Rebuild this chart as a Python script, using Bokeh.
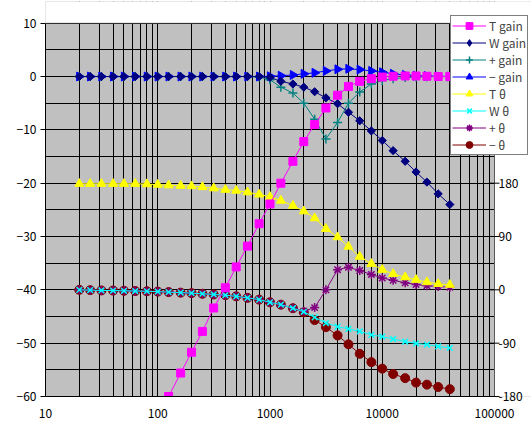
import numpy as np
from bokeh.plotting import figure
from bokeh.models import (Range1d, FixedTicker, Legend, LegendItem,
                          BoxAnnotation)
from bokeh.core.properties import value
from bokeh.embed import file_html
from bokeh.resources import INLINE

# ---------------- data ----------------
freqs = [20, 25, 31.5, 40, 50, 63, 80, 100, 125, 160, 200, 250, 315, 400, 500,
         630, 800, 1000, 1250, 1600, 2000, 2500, 3150, 4000, 5000, 6300, 8000,
         10000, 12500, 16000, 20000, 25000, 31500, 40000]

# gains (dB, left axis)
t_gain = [-60, -55.6, -51.7, -47.8, -43.4, -39.6, -35.7, -31.8, -27.6, -23.9,
          -20.0, -15.9, -12.2, -9.0, -5.9, -3.5, -1.85, -0.9, -0.4, -0.1,
          0.05, 0.1, 0.1, 0.05, 0.0, 0.0]          # from 125 Hz on
w_gain = [0, 0, 0, 0, 0, 0, 0, 0, 0, 0, 0, 0, 0, 0, 0, 0, 0, -0.15, -0.9, -1.4,
          -2.0, -2.85, -4.0, -5.1, -6.7, -8.3, -10.2, -12.0, -13.9, -15.9,
          -17.9, -19.8, -22.0, -24.0]
p_gain = [0, 0, 0, 0, 0, 0, 0, 0, 0, 0, 0, 0, 0, 0, 0, 0, -0.1, -0.6, -2.0, -3.1,
          -5.0, -8.0, -11.7, -8.6, -5.0, -2.9, -1.4, -0.75, -0.4, -0.2,
          -0.1, -0.05, 0, 0]
m_gain = [0, 0, 0, 0, 0, 0, 0, 0, 0, 0, 0, 0, 0, 0, 0, 0, 0, 0.05, 0.15, 0.3,
          0.5, 0.7, 1.05, 1.35, 1.45, 1.3, 1.05, 0.8, 0.5, 0.3,
          0.15, 0.1, 0.05, 0]

# phases (deg, right axis)
t_theta = [179, 179, 179, 179, 179, 179, 178.5, 177.5, 176.5, 175.8, 175, 173.5,
           171.5, 169, 167.5, 164.8, 161, 157, 150.7, 142, 132.7, 121, 103, 89,
           73, 56, 44, 34, 27, 21.4, 17, 13, 10, 8.6]
w_theta = [0, -0.5, -1, -1.2, -1.6, -2, -2.4, -3, -3.8, -4.7, -5.6, -6.6, -7.8,
           -9, -11, -13.5, -16.5, -21, -25, -31, -37, -46.5, -56, -62, -66, -70,
           -76, -79, -83, -87.5, -90.5, -92.5, -95.5, -98]
p_theta = [0, -0.5, -1, -1.2, -1.6, -2, -2.4, -3, -3.8, -4.7, -5.6, -6.6, -7.8,
           -9, -11, -13.5, -16.5, -21, -25, -31, -36, -30, 0, 34, 38, 32.6,
           26, 20, 16, 12, 9, 7, 5.6, 4.5]
m_theta = [0, -0.5, -1, -1.2, -1.6, -2, -2.4, -3, -3.8, -4.7, -5.6, -6.6, -7.8,
           -9, -11, -13.5, -16.5, -21, -25, -31, -38, -51, -63, -77, -92, -108,
           -122, -133, -142, -149, -156.5, -160, -164, -167.6]

x_ticks = [10, 100, 1000, 10000, 100000]
x_tick_labels = ["10", "100", "1000", "10000", "100000"]
left_ticks = [10, 0, -10, -20, -30, -40, -50, -60]
left_minor = [5, -5, -15, -25, -35, -45, -55]
right_ticks = [-180, -90, 0, 90, 180]
right_tick_labels = ["-180", "-90", "0", "90", "180"]

labels = ["T gain", "W gain", "+ gain", "\u2212 gain",
          "T \u03b8", "W \u03b8", "+ \u03b8", "\u2212 \u03b8"]

FONT = "Noto Sans CJK JP"

# ---------------- layout constants ----------------
W, H = 531, 429
B_LEFT, B_TOP, B_BOTTOM = 45, 1, 33
X_MIN, X_MAX = 10, 100000          # grey plot-area x limits
Y_MIN, Y_MAX = -60, 10             # grey plot-area y limits
AREA_W = 449                       # grey plot-area width in px
AREA_H = 373.3                     # grey plot-area height in px
frame_w = W - B_LEFT
frame_h = H - B_TOP - B_BOTTOM
decades = np.log10(X_MAX / X_MIN)
x_end = X_MIN * 10 ** (decades * frame_w / AREA_W)
y_end = Y_MIN + (Y_MAX - Y_MIN) * frame_h / AREA_H


def to_right(v):
    # secondary scale: -60 -> -180, -20 -> 180
    return (v + 40) * 9


# ---------------- main figure ----------------
p = figure(width=W, height=H, x_axis_type="log",
           x_range=Range1d(X_MIN, x_end), y_range=Range1d(Y_MIN, y_end),
           output_backend="svg", toolbar_location=None,
           min_border_left=B_LEFT, min_border_right=0,
           min_border_top=B_TOP, min_border_bottom=B_BOTTOM)
p.extra_y_ranges = {"right": Range1d(to_right(Y_MIN), to_right(y_end))}

p.background_fill_color = "#C0C0C0"
p.border_fill_color = "white"
p.outline_line_color = None

minor_x = [m * 10 ** e for e in range(1, 5) for m in range(2, 10)]
p.xaxis.ticker = FixedTicker(ticks=x_ticks, minor_ticks=minor_x)
p.xaxis.major_label_overrides = dict(zip(x_ticks, x_tick_labels))
p.xaxis.major_tick_line_color = None
p.xaxis.minor_tick_line_color = None
p.xaxis.axis_line_color = "black"
p.xaxis.major_label_standoff = 6
p.xaxis.bounds = (X_MIN, X_MAX)

p.yaxis.ticker = FixedTicker(ticks=left_ticks, minor_ticks=left_minor)
p.yaxis.major_tick_out = 5
p.yaxis.major_tick_in = 0
p.yaxis.minor_tick_line_color = None
p.yaxis.axis_line_color = "black"
p.yaxis.major_label_standoff = 4
p.yaxis.bounds = (Y_MIN, Y_MAX)

for ax in [p.xaxis[0], p.yaxis[0]]:
    ax.major_label_text_font = FONT
    ax.major_label_text_font_size = "12px"
    ax.major_label_text_color = "black"

for g in [p.xgrid[0], p.ygrid[0]]:
    g.grid_line_color = "black"
    g.grid_line_width = 1
    g.minor_grid_line_color = "black"
    g.minor_grid_line_width = 1

# ---------------- series ----------------
t_freqs = freqs[-len(t_gain):]
series = [
    (t_freqs, t_gain, "#FF00FF", "square", 8, 0, "default", 1, "square"),
    (freqs, w_gain, "#000080", "square", 5.8, np.pi / 4, "default", 1, "diamond"),
    (freqs, p_gain, "#008080", "cross", 9, 0, "default", 1.5, "cross"),
    (freqs, m_gain, "#0000FF", "triangle", 9, -np.pi / 2, "default", 1, "triangle"),
    (freqs, t_theta, "#FFFF00", "triangle", 9, 0, "right", 1, "triangle"),
    (freqs, w_theta, "#00FFFF", "x", 8, 0, "right", 1.5, "x"),
    (freqs, p_theta, "#800080", "asterisk", 9, 0, "right", 1.5, "asterisk"),
    (freqs, m_theta, "#800000", "circle", 9, 0, "right", 1, "circle"),
]

rends = [None] * len(series)
for i in reversed(range(len(series))):
    xs, ys, col, mk, sz, ang, rng, lw, lmk = series[i]
    lr = p.line(xs, ys, line_color=col, line_width=1, y_range_name=rng)
    sr = p.scatter(xs, ys, marker=mk, size=sz, angle=ang, fill_color=col,
                   line_color=col, line_width=lw, y_range_name=rng)
    if lmk != mk:
        # legend-only glyph (legends ignore marker angles)
        sr = p.scatter(xs, ys, marker=lmk, size=sz, fill_color=col,
                       line_color=col, line_width=lw, y_range_name=rng,
                       visible=False)
    rends[i] = [lr, sr]

# white surround outside the grey plot area (frame is larger so the legend fits)
p.add_layout(BoxAnnotation(left=X_MAX, fill_color="white", fill_alpha=1,
                           line_color=None))
p.add_layout(BoxAnnotation(bottom=Y_MAX, fill_color="white", fill_alpha=1,
                           line_color=None))
p.add_layout(BoxAnnotation(left=X_MIN, right=X_MAX, bottom=Y_MIN, top=Y_MAX,
                           fill_alpha=0, line_color="black", line_width=1))

# secondary (right) axis: ticks and labels at the plot-area edge
p.scatter([X_MAX] * len(right_ticks), right_ticks, marker="dash", size=10,
          line_color="black", line_width=1, y_range_name="right",
          level="overlay")
p.text([X_MAX] * len(right_ticks), right_ticks, text=right_tick_labels,
       x_offset=4, text_align="left", text_baseline="middle",
       text_font=value(FONT), text_font_size="12px", text_color="black",
       y_range_name="right", level="overlay")

# ---------------- legend ----------------
items = [LegendItem(label=labels[i], renderers=rends[i]) for i in range(len(series))]
legend = Legend(items=items, location=(405, 241),
                label_text_font=FONT, label_text_font_size="12px",
                glyph_width=34, glyph_height=17, label_height=17,
                spacing=0, padding=1, margin=0, label_standoff=3,
                border_line_color="black", border_line_width=1,
                background_fill_color="white", background_fill_alpha=1)
p.add_layout(legend)

open("out.html", "w").write(file_html(p, INLINE))
